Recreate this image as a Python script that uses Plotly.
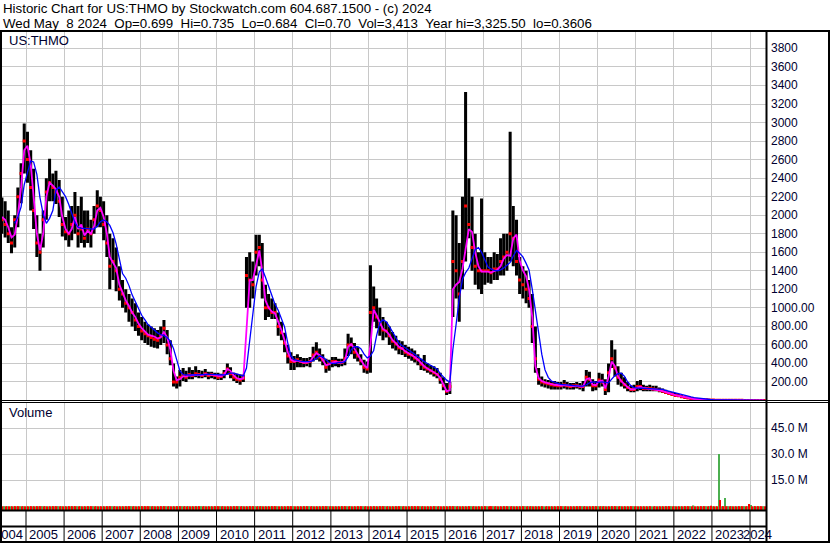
import pandas as pd
import plotly.graph_objects as go

# ---------------- data (monthly, May 2004 .. May 2024) ----------------
high = [
    2190, 2150, 2050, 1870, 2000, 2300, 2560, 2990,
    2900, 2700, 2500, 2000, 1800, 2050, 2400, 2610, 2450, 2480, 2380, 2200,
    1980, 2050, 2100, 2250, 2100, 2200, 2050, 2050, 1950, 2100, 2270, 2200,
    2150, 2000, 1800, 1750, 1650, 1450, 1300, 1200, 1150, 1100, 1050, 950,
    900, 850, 820, 800, 780, 760, 800, 870, 760, 650, 400, 260,
    330, 350, 320, 360, 330, 370, 330, 320, 340, 310, 310, 300,
    300, 290, 330, 400, 360, 300, 290, 280, 280, 1550, 1600, 1500,
    1790, 1790, 1700, 1250, 1150, 1100, 1050, 950, 850, 730, 600, 520,
    480, 500, 470, 460, 460, 470, 580, 630, 560, 500, 450, 440,
    470, 470, 450, 450, 560, 720, 680, 620, 580, 500, 440, 420,
    1460, 1230, 1100, 1000, 900, 850, 800, 740, 700, 650, 640, 600,
    580, 560, 540, 500, 450, 490, 400, 380, 370, 350, 300, 250,
    190, 200, 2050, 2000, 1700, 2200, 3330, 2400, 2200, 1800, 1600, 2180,
    1600, 1550, 1550, 1600, 1580, 1750, 1800, 1800, 2900, 2100, 1950, 1550,
    1450, 1400, 1300, 1150, 800, 350, 260, 230, 220, 210, 210, 200,
    200, 220, 200, 190, 190, 200, 190, 210, 330, 310, 230, 210,
    300, 290, 230, 400, 650, 550, 370, 300, 250, 200, 160, 170,
    210, 220, 170, 160, 170, 160, 160, 140, 130, 115, 100, 90,
    80, 70, 60, 50, 40, 32, 25, 20, 16, 14, 12, 10,
    8, 7, 9, 6, 5, 4.5, 4, 3.5, 3, 2.6, 2.2, 2,
    1.8, 1.5, 1.2, 1.0, 0.735,
]
low = [
    1800, 1760, 1700, 1590, 1650, 1870, 2130, 2450,
    2350, 2050, 1850, 1550, 1400, 1650, 1950, 2150, 2150, 2120, 1980, 1770,
    1730, 1660, 1730, 1800, 1650, 1700, 1650, 1700, 1650, 1800, 1870, 1870,
    1730, 1550, 1200, 1300, 1180, 1080, 1000, 950, 850, 800, 750, 700,
    650, 620, 600, 580, 570, 560, 600, 620, 500, 380, 150, 130,
    150, 210, 200, 230, 230, 250, 240, 240, 250, 230, 240, 230,
    220, 220, 240, 280, 240, 210, 190, 170, 200, 1000, 1000, 1100,
    1350, 1450, 1100, 870, 900, 880, 880, 700, 650, 520, 400, 330,
    330, 360, 360, 360, 370, 360, 420, 440, 420, 380, 300, 320,
    360, 370, 360, 370, 380, 480, 500, 450, 420, 380, 300, 290,
    300, 850, 780, 700, 650, 680, 600, 560, 540, 500, 490, 470,
    450, 430, 410, 380, 330, 320, 300, 280, 260, 240, 180, 110,
    60, 70, 900, 1100, 850, 1200, 1500, 1750, 1400, 1250, 1200, 1150,
    1250, 1270, 1260, 1300, 1300, 1350, 1350, 1400, 1500, 1450, 1350, 1150,
    1100, 1050, 1000, 620, 300, 170, 150, 140, 130, 120, 120, 120,
    120, 130, 120, 120, 120, 130, 120, 100, 150, 150, 100, 110,
    140, 150, 60, 90, 350, 260, 170, 150, 130, 100, 90, 90,
    100, 110, 100, 100, 100, 100, 100, 90, 80, 70, 60, 50,
    45, 40, 30, 25, 18, 14, 10, 8, 6, 5, 4, 3,
    3, 2.5, 2.5, 2, 2, 1.8, 1.5, 1.3, 1.2, 1, 0.8, 0.7,
    0.6, 0.5, 0.45, 0.4, 0.36,
]
close = [
    1950, 1900, 1800, 1700, 1950, 2200, 2450, 2800,
    2600, 2300, 2050, 1700, 1600, 1950, 2250, 2350, 2300, 2250, 2150, 1900,
    1820, 1800, 1900, 2000, 1800, 1850, 1750, 1850, 1800, 1950, 2100, 2050,
    1900, 1700, 1450, 1500, 1400, 1200, 1150, 1050, 1000, 950, 870, 800,
    750, 720, 700, 680, 660, 650, 700, 780, 600, 450, 200, 200,
    250, 270, 250, 280, 270, 290, 280, 270, 290, 270, 280, 270,
    250, 260, 290, 340, 290, 250, 230, 220, 240, 1350, 1300, 1250,
    1600, 1650, 1300, 1000, 1000, 950, 950, 800, 730, 620, 480, 420,
    420, 440, 420, 410, 410, 420, 490, 520, 470, 440, 360, 400,
    420, 420, 410, 410, 450, 600, 600, 520, 480, 430, 360, 340,
    950, 1000, 900, 820, 760, 750, 700, 640, 610, 570, 560, 520,
    500, 490, 460, 440, 390, 360, 340, 320, 300, 280, 230, 160,
    100, 150, 1500, 1400, 1150, 1500, 2100, 1900, 1650, 1450, 1400, 1400,
    1400, 1400, 1380, 1420, 1420, 1500, 1550, 1600, 1800, 1750, 1500, 1300,
    1250, 1200, 1100, 800, 450, 230, 200, 190, 180, 170, 165, 160,
    160, 170, 160, 150, 160, 160, 150, 150, 250, 230, 160, 160,
    220, 200, 120, 300, 450, 350, 250, 210, 170, 140, 120, 120,
    150, 150, 130, 130, 130, 125, 120, 110, 100, 85, 75, 65,
    55, 50, 40, 33, 26, 20, 15, 12, 10, 8, 7, 6,
    5, 4, 4, 3, 3, 2.5, 2.2, 2, 1.8, 1.5, 1.3, 1.1,
    1.0, 0.9, 0.8, 0.75, 0.70,
]
ma_short = [
    1980, 1950, 1870, 1760, 1790, 2000, 2300, 2700,
    2750, 2550, 2200, 1800, 1620, 1800, 2200, 2350, 2320, 2280, 2200, 1980,
    1850, 1800, 1850, 1980, 1850, 1900, 1780, 1830, 1800, 1880, 2050, 2080,
    1980, 1800, 1550, 1480, 1430, 1250, 1160, 1080, 1020, 950, 900, 830,
    780, 740, 710, 700, 690, 670, 680, 740, 680, 550, 320, 220,
    230, 260, 260, 270, 275, 280, 280, 275, 285, 280, 280, 275,
    265, 260, 280, 340, 320, 270, 240, 230, 240, 800, 1300, 1300,
    1450, 1620, 1400, 1080, 1000, 960, 940, 850, 760, 650, 520, 440,
    420, 430, 420, 410, 410, 420, 470, 510, 490, 440, 380, 390,
    410, 420, 410, 410, 430, 580, 610, 560, 490, 440, 380, 350,
    600, 980, 920, 850, 770, 750, 710, 650, 620, 580, 560, 530,
    510, 490, 470, 440, 400, 370, 345, 325, 305, 285, 245, 180,
    100, 110, 1200, 1250, 1280, 1420, 1650, 1850, 1820, 1600, 1450, 1390,
    1390, 1390, 1380, 1400, 1410, 1450, 1530, 1570, 1560, 1750, 1790, 1510,
    1405, 1340, 1200, 900, 370, 240, 210, 195, 185, 175, 170, 165,
    160, 165, 160, 155, 155, 160, 150, 150, 230, 240, 170, 165,
    210, 215, 130, 250, 420, 370, 260, 210, 175, 145, 120, 120,
    140, 150, 135, 130, 128, 125, 122, 110, 100, 88, 78, 68,
    58, 50, 42, 35, 28, 22, 16, 13, 11, 9, 7, 6,
    5, 4.5, 4, 3.5, 3, 2.7, 2.4, 2.1, 1.9, 1.6, 1.4, 1.2,
    1.0, 0.9, 0.8, 0.75, 0.72,
]
ma_long = [
    None, None, None, None, 1912, 1980, 2090, 2330,
    2460, 2585, 2575, 2440, 2190, 2010, 1912, 1966, 2050, 2270, 2305, 2250,
    2200, 2115, 2010, 1920, 1870, 1858, 1858, 1858, 1858, 1850, 1880, 1930,
    1948, 1930, 1890, 1810, 1690, 1530, 1370, 1320, 1240, 1140, 1060, 980,
    920, 870, 820, 790, 760, 730, 710, 700, 680, 640, 560, 430,
    320, 280, 275, 275, 275, 278, 280, 280, 282, 282, 282, 280,
    278, 275, 275, 285, 295, 295, 285, 270, 265, 350, 650, 980,
    1230, 1390, 1420, 1330, 1240, 1130, 1040, 975, 880, 795, 620, 480,
    440, 430, 425, 420, 420, 420, 430, 460, 480, 470, 440, 410,
    400, 400, 410, 410, 420, 470, 550, 580, 580, 560, 500, 460,
    480, 540, 700, 840, 870, 850, 800, 740, 680, 620, 590, 570,
    550, 520, 500, 470, 440, 420, 400, 380, 360, 340, 290, 250,
    220, 200, 550, 820, 1100, 1310, 1380, 1430, 1530, 1630, 1650, 1600,
    1520, 1440, 1420, 1405, 1400, 1410, 1430, 1460, 1490, 1560, 1620, 1590,
    1550, 1480, 1410, 1200, 950, 720, 500, 330, 250, 210, 195, 185,
    175, 170, 168, 165, 160, 158, 155, 155, 170, 190, 200, 195,
    195, 200, 195, 190, 230, 270, 290, 295, 260, 200, 160, 140,
    135, 133, 135, 135, 133, 130, 128, 125, 120, 110, 100, 90,
    80, 70, 60, 52, 45, 38, 30, 25, 20, 16, 13, 11,
    9, 8, 7, 6, 5, 4.5, 4, 3.5, 3, 2.6, 2.3, 2,
    1.7, 1.5, 1.3, 1.1, 1.0,
]
# volume in millions of shares
vol_up = [
    0.1, 0.1, 0.1, 0.1, 0.1, 0.1, 0.1, 0.1,
    0.1, 0.1, 0.1, 0.1, 0.1, 0.1, 0.1, 0.1, 0.1, 0.1, 0.1, 0.1,
    0.1, 0.1, 0.1, 0.1, 0.1, 0.1, 0.1, 0.1, 0.1, 0.1, 0.1, 0.1,
    0.1, 0.1, 0.1, 0.1, 0.1, 0.1, 0.1, 0.1, 0.1, 0.1, 0.1, 0.1,
    0.1, 0.1, 0.1, 0.1, 0.1, 0.1, 0.1, 0.1, 0.1, 0.1, 0.1, 0.1,
    0.1, 0.1, 0.1, 0.1, 0.1, 0.1, 0.1, 0.1, 0.1, 0.1, 0.1, 0.1,
    0.1, 0.1, 0.1, 0.1, 0.1, 0.1, 0.1, 0.1, 0.1, 0.1, 0.1, 0.1,
    0.1, 0.1, 0.1, 0.1, 0.1, 0.1, 0.1, 0.1, 0.1, 0.1, 0.1, 0.1,
    0.1, 0.1, 0.1, 0.1, 0.1, 0.1, 0.1, 0.1, 0.1, 0.1, 0.1, 0.1,
    0.1, 0.1, 0.1, 0.1, 0.1, 0.1, 0.1, 0.1, 0.1, 0.1, 0.1, 0.1,
    0.1, 0.1, 0.1, 0.1, 0.1, 0.1, 0.1, 0.1, 0.1, 0.1, 0.1, 0.1,
    0.1, 0.1, 0.1, 0.1, 0.1, 0.1, 0.1, 0.1, 0.1, 0.1, 0.1, 0.1,
    0.1, 0.1, 0.1, 0.1, 0.1, 0.1, 0.1, 0.1, 0.1, 0.1, 0.1, 0.1,
    0.1, 0.1, 0.1, 0.1, 0.1, 0.1, 0.1, 0.1, 0.1, 0.1, 0.1, 0.1,
    0.1, 0.1, 0.1, 0.1, 0.1, 0.1, 0.1, 0.1, 0.1, 0.1, 0.1, 0.1,
    0.1, 0.1, 0.1, 0.1, 0.1, 0.1, 0.1, 0.1, 0.1, 0.1, 0.1, 0.1,
    0.1, 0.1, 0.1, 0.1, 0.1, 0.1, 0.1, 0.1, 0.1, 0.1, 0.1, 0.1,
    0.1, 0.1, 0.1, 0.1, 0.1, 0.1, 0.1, 0.1, 0.1, 0.1, 0.1, 0.1,
    0.1, 0.1, 0.1, 0.1, 0.1, 0.1, 0.5, 0.1, 0.1, 0.1, 0.1, 0.1,
    0.1, 0.1, 30.2, 0.1, 4.8, 0.1, 0.1, 0.1, 0.1, 0.1, 0.1, 0.1,
    0.7, 0.1, 0.1, 0.1, 0.1,
]
vol_down = [
    0.1, 0.1, 0.1, 0.1, 0.1, 0.1, 0.1, 0.1,
    0.1, 0.1, 0.1, 0.1, 0.1, 0.1, 0.1, 0.1, 0.1, 0.1, 0.1, 0.1,
    0.1, 0.1, 0.1, 0.1, 0.1, 0.1, 0.1, 0.1, 0.1, 0.1, 0.1, 0.1,
    0.1, 0.1, 0.1, 0.1, 0.1, 0.1, 0.1, 0.1, 0.1, 0.1, 0.1, 0.1,
    0.1, 0.1, 0.1, 0.1, 0.1, 0.1, 0.1, 0.1, 0.1, 0.1, 0.1, 0.1,
    0.1, 0.1, 0.1, 0.1, 0.1, 0.1, 0.1, 0.1, 0.1, 0.1, 0.1, 0.1,
    0.1, 0.1, 0.1, 0.1, 0.1, 0.1, 0.1, 0.1, 0.1, 0.1, 0.1, 0.1,
    0.1, 0.1, 0.1, 0.1, 0.1, 0.1, 0.1, 0.1, 0.1, 0.1, 0.1, 0.1,
    0.1, 0.1, 0.1, 0.1, 0.1, 0.1, 0.1, 0.1, 0.1, 0.1, 0.1, 0.1,
    0.1, 0.1, 0.1, 0.1, 0.1, 0.1, 0.1, 0.1, 0.1, 0.1, 0.1, 0.1,
    0.1, 0.1, 0.1, 0.1, 0.1, 0.1, 0.1, 0.1, 0.1, 0.1, 0.1, 0.1,
    0.1, 0.1, 0.1, 0.1, 0.1, 0.1, 0.1, 0.1, 0.1, 0.1, 0.1, 0.1,
    0.1, 0.1, 0.1, 0.1, 0.1, 0.1, 0.1, 0.1, 0.1, 0.1, 0.1, 0.1,
    0.1, 0.1, 0.1, 0.1, 0.1, 0.1, 0.1, 0.1, 0.1, 0.1, 0.1, 0.1,
    0.1, 0.1, 0.1, 0.1, 0.1, 0.1, 0.1, 0.1, 0.1, 0.1, 0.1, 0.1,
    0.1, 0.1, 0.1, 0.1, 0.1, 0.1, 0.1, 0.1, 0.1, 0.1, 0.1, 0.1,
    0.1, 0.1, 0.1, 0.1, 0.1, 0.1, 0.1, 0.1, 0.1, 0.1, 0.1, 0.1,
    0.1, 0.1, 0.1, 0.1, 0.1, 0.1, 0.1, 0.1, 0.1, 0.1, 0.1, 0.1,
    0.1, 0.1, 0.1, 0.1, 0.1, 0.1, 0.1, 0.1, 0.1, 0.1, 0.1, 0.3,
    0.1, 0.1, 3.6, 0.1, 0.1, 0.1, 0.1, 0.1, 0.1, 0.1, 0.1, 1.3,
    0.1, 0.1, 0.1, 0.1, 0.1,
]
years = list(range(2004, 2025))
price_ticks = [3800, 3600, 3400, 3200, 3000, 2800, 2600, 2400, 2200, 2000,
               1800, 1600, 1400, 1200, 1000, 800, 600, 400, 200]
price_tick_text = ["3800", "3600", "3400", "3200", "3000", "2800", "2600", "2400", "2200", "2000",
                   "1800", "1600", "1400", "1200", "1000.00", "800.00", "600.00", "400.00", "200.00"]
vol_ticks = [45e6, 30e6, 15e6]
vol_tick_text = ["45.0 M", "30.0 M", "15.0 M"]
header1 = "Historic Chart for US:THMO by Stockwatch.com 604.687.1500 - (c) 2024"
header2 = "Wed May  8 2024  Op=0.699  Hi=0.735  Lo=0.684  Cl=0.70  Vol=3,413  Year hi=3,325.50  lo=0.3606"
symbol = "US:THMO"

n = len(close)
assert all(len(a) == n for a in [high, low, ma_short, ma_long, vol_up, vol_down]), "length mismatch"

# ---------------- layout geometry (pixels) ----------------
W, H = 830, 543
FONT = "Liberation Sans, Arial, sans-serif"
DAY = 86400000


def px(p):
    return p / W


def py(p):
    return 1 - p / H


dates = pd.date_range("2004-05-01", periods=n, freq="MS") + pd.Timedelta(days=14)
X_RANGE = ["2004-05-16", "2024-06-02"]
PRICE_RANGE = [0, 3988]
VOL_RANGE = [-2.13e6, 60.17e6]
VOL_BASE = VOL_RANGE[0]
year_starts = [f"{y}-01-01" for y in years]

fig = go.Figure()

# price high-low bars
fig.add_trace(go.Bar(
    x=dates, y=[h - l for h, l in zip(high, low)], base=low,
    width=29 * DAY, marker=dict(color="black", line=dict(width=0)),
    xaxis="x", yaxis="y", hoverinfo="skip"))
# close ticks
fig.add_trace(go.Scatter(
    x=dates, y=close, mode="markers",
    marker=dict(symbol="square", size=3, color="#ff0000", line=dict(width=0)),
    xaxis="x", yaxis="y", hoverinfo="skip"))
# moving averages
fig.add_trace(go.Scatter(
    x=dates, y=ma_short, mode="lines", line=dict(color="#ff00ff", width=1.8),
    xaxis="x", yaxis="y", hoverinfo="skip"))
fig.add_trace(go.Scatter(
    x=dates, y=ma_long, mode="lines", line=dict(color="#0000ff", width=1.3),
    connectgaps=False, xaxis="x", yaxis="y", hoverinfo="skip"))

# volume
fig.add_trace(go.Bar(
    x=dates, y=[v * 1e6 - VOL_BASE for v in vol_up], base=VOL_BASE,
    offset=-13 * DAY, width=13 * DAY,
    marker=dict(color="#4caf50", line=dict(width=0)),
    xaxis="x2", yaxis="y2", hoverinfo="skip"))
fig.add_trace(go.Bar(
    x=dates, y=[v * 1e6 - VOL_BASE for v in vol_down], base=VOL_BASE,
    offset=0, width=13 * DAY,
    marker=dict(color="#ff0000", line=dict(width=0)),
    xaxis="x2", yaxis="y2", hoverinfo="skip"))

GRID = "#c8c8c8"
xcommon = dict(type="date", range=X_RANGE, domain=[px(2), px(766)],
               tickvals=year_starts, showticklabels=False, ticks="",
               showgrid=True, gridcolor=GRID, gridwidth=1,
               zeroline=False, showline=False, fixedrange=True)

fig.update_layout(
    width=W, height=H,
    margin=dict(l=0, r=0, t=0, b=0),
    paper_bgcolor="white", plot_bgcolor="white",
    showlegend=False, barmode="overlay",
    xaxis=dict(**xcommon, anchor="y"),
    xaxis2=dict(**xcommon, anchor="y2", matches="x"),
    yaxis=dict(domain=[py(400.5), py(31)], range=PRICE_RANGE, tickvals=price_ticks,
               showticklabels=False, ticks="", showgrid=True, gridcolor=GRID,
               gridwidth=1, zeroline=False, showline=False, fixedrange=True),
    yaxis2=dict(domain=[py(510), py(402)], range=VOL_RANGE, tickvals=vol_ticks,
                showticklabels=False, ticks="", showgrid=True, gridcolor=GRID,
                gridwidth=1, zeroline=False, showline=False, fixedrange=True),
)

ann = []
NB = "\u00a0"
ann.append(dict(text=header1.replace(" ", NB), x=px(1), y=py(-1), xref="paper", yref="paper",
                xanchor="left", yanchor="top", showarrow=False,
                font=dict(family=FONT, size=13.3, color="black")))
ann.append(dict(text=header2.replace(" ", NB), x=px(1), y=py(14), xref="paper", yref="paper",
                xanchor="left", yanchor="top", showarrow=False,
                font=dict(family=FONT, size=13.3, color="black")))
ann.append(dict(text=symbol, x=px(7), y=py(31), xref="paper", yref="paper",
                xanchor="left", yanchor="top", showarrow=False,
                font=dict(family=FONT, size=13, color="#000030")))
ann.append(dict(text="Volume", x=px(7), y=py(403), xref="paper", yref="paper",
                xanchor="left", yanchor="top", showarrow=False,
                font=dict(family=FONT, size=13, color="#000030")))
for v, t in zip(price_ticks, price_tick_text):
    ann.append(dict(text=t, x=px(769), y=v, xref="paper", yref="y",
                    xanchor="left", yanchor="middle", showarrow=False,
                    font=dict(family=FONT, size=12, color="#000030")))
for v, t in zip(vol_ticks, vol_tick_text):
    ann.append(dict(text=t, x=px(769), y=v, xref="paper", yref="y2",
                    xanchor="left", yanchor="middle", showarrow=False,
                    font=dict(family=FONT, size=12, color="#000030")))
for y in years:
    if y == years[0]:
        ann.append(dict(text=str(y), x=f"{y + 1}-01-01", y=py(534), xref="x", yref="paper",
                        xanchor="right", yanchor="middle", xshift=-1, showarrow=False,
                        font=dict(family=FONT, size=13, color="#000030")))
    elif y == years[-1]:
        ann.append(dict(text=str(y), x=f"{y}-01-01", y=py(534), xref="x", yref="paper",
                        xanchor="left", yanchor="middle", xshift=-9, showarrow=False,
                        font=dict(family=FONT, size=13, color="#000030")))
    else:
        ann.append(dict(text=str(y), x=f"{y}-01-01", y=py(534), xref="x", yref="paper",
                        xanchor="left", yanchor="middle", xshift=1, showarrow=False,
                        font=dict(family=FONT, size=13, color="#000030")))

shapes = []


def hline(yp, x0, x1, w):
    shapes.append(dict(type="line", xref="paper", yref="paper", x0=px(x0), x1=px(x1),
                       y0=py(yp), y1=py(yp), line=dict(color="black", width=w), layer="above"))


def vline(xp, y0, y1, w):
    shapes.append(dict(type="line", xref="paper", yref="paper", x0=px(xp), x1=px(xp),
                       y0=py(y0), y1=py(y1), line=dict(color="black", width=w), layer="above"))


hline(31, 0, 830, 2)
hline(400.5, 0, 830, 1)
hline(402.5, 0, 830, 1)
hline(510.5, 0, 767, 2)
hline(526.5, 0, 767, 2)
hline(542, 0, 830, 2)
vline(1, 30, 543, 2)
vline(829, 30, 543, 2)
vline(766.5, 30, 543, 2)
for ys in year_starts[1:]:
    shapes.append(dict(type="line", xref="x", yref="paper", x0=ys, x1=ys,
                       y0=py(511), y1=py(542), line=dict(color="black", width=1), layer="above"))

fig.update_layout(annotations=ann, shapes=shapes)
fig.write_html(
    "out.html",
    config={"displayModeBar": False},
    post_script="document.body.style.margin='0';document.body.style.overflow='hidden';",
)
